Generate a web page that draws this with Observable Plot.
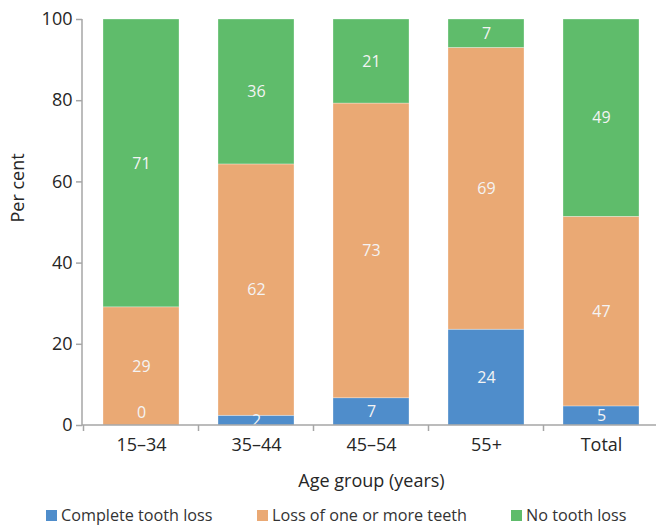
<!DOCTYPE html>
<html>
<head>
<meta charset="utf-8">
<script src="https://cdn.jsdelivr.net/npm/d3@7"></script>
<script src="https://cdn.jsdelivr.net/npm/@observablehq/plot@0.6"></script>
<style>
  html, body { margin: 0; padding: 0; background: #fff; overflow: hidden; }
  body { width: 656px; height: 528px; font-family: "Open Sans", sans-serif; color: #404040; }
  #legend { height: 28px; font-size: 16.2px; color: #333; position: relative; }
  .item { position: absolute; top: 4px; display: flex; align-items: center; white-space: nowrap; }
  .sw { width: 11px; height: 11px; margin-right: 4px; display: inline-block; }
</style>
</head>
<body>
<div id="chart"></div>
<div id="legend"></div>
<script>
const groups = ["15–34", "35–44", "45–54", "55+", "Total"];
const series = ["Complete tooth loss", "Loss of one or more teeth", "No tooth loss"];
const completeLoss = [0, 2.4, 6.7, 23.6, 4.7];
const someLoss = [29.1, 61.9, 72.6, 69.4, 46.7];
const noLoss = [70.9, 35.7, 20.7, 7.0, 48.6];
const colors = ["#4f8dcb", "#eaa974", "#5fbc6b"];
const yTicks = [0, 20, 40, 60, 80, 100];

const valuesBySeries = [completeLoss, someLoss, noLoss];
const data = [];
series.forEach((s, si) => {
  groups.forEach((g, gi) => {
    data.push({group: g, series: s, value: valuesBySeries[si][gi]});
  });
});

const boundaryTicks = (index, scales, values, dims) => {
  const x = scales.x;
  const dom = x.domain();
  const step = dom.length > 1 ? x(dom[1]) - x(dom[0]) : dims.width;
  const pad = (step - x.bandwidth()) / 2;
  const g = d3.create("svg:g");
  const y0 = dims.height - dims.marginBottom;
  for (let i = 0; i <= dom.length; i++) {
    const xp = (i < dom.length ? x(dom[i]) - pad : x(dom[dom.length - 1]) + x.bandwidth() + pad);
    g.append("line").attr("x1", xp).attr("x2", xp).attr("y1", y0).attr("y2", y0 + 6)
      .attr("stroke", "#a6a6a6").attr("stroke-width", 1.5);
  }
  g.append("line").attr("x1", dims.marginLeft).attr("x2", dims.width)
    .attr("y1", y0).attr("y2", y0).attr("stroke", "#a6a6a6").attr("stroke-width", 1.5);
  return g.node();
};

const chart = Plot.plot({
  width: 656,
  height: 500,
  marginTop: 19,
  marginBottom: 75,
  marginLeft: 82,
  marginRight: -4,
  style: {fontFamily: "'Open Sans', sans-serif", fontSize: "18px", color: "#262626", background: "#fff"},
  x: {domain: groups, paddingInner: 0.335, paddingOuter: 0.1675, label: null},
  y: {domain: [0, 100], label: null},
  color: {domain: series, range: colors},
  marks: [
    Plot.barY(data, Plot.stackY({x: "group", y: "value", fill: "series", z: "series", stroke: "#ffffff", strokeWidth: 0.6, strokeOpacity: 0.5})),
    Plot.text(data.filter(d => d.value > 0), Plot.stackY({x: "group", y: "value", z: "series", text: d => String(Math.round(d.value)), fill: "#f4f4f4", fontSize: 16})),
    Plot.text(data.filter(d => d.value === 0), {x: "group", y: "value", text: d => String(Math.round(d.value)), fill: "#f4f4f4", fontSize: 16, dy: -13}),
    Plot.frame({stroke: "none", render: (i, s, v, d) => {
      return d3.create("svg:line").attr("x1", d.marginLeft).attr("x2", d.marginLeft)
        .attr("y1", s.y(100)).attr("y2", s.y(0)).attr("stroke", "#a6a6a6").attr("stroke-width", 1.5).node();
    }}),
    Plot.axisY({ticks: yTicks, tickSize: 6, tickPadding: 4, stroke: "#a6a6a6", strokeWidth: 1.5, fill: "#262626", fontSize: 18, label: null}),
    Plot.text(["Per cent"], {frameAnchor: "left", dx: -64, rotate: -90, fontSize: 18, fill: "#262626", text: d => d}),
    Plot.axisX({tickSize: 0, tickPadding: 13, fill: "#262626", fontSize: 18, label: null}),
    Plot.text(["Age group (years)"], {frameAnchor: "bottom", dy: 61, fontSize: 18, fill: "#262626", text: d => d}),
    Plot.frame({stroke: "none", render: boundaryTicks})
  ]
});
document.getElementById("chart").appendChild(chart);

const legend = document.getElementById("legend");
const lx = [46, 257, 511];
series.forEach((s, i) => {
  const it = document.createElement("div");
  it.className = "item";
  it.style.left = lx[i] + "px";
  const sw = document.createElement("span");
  sw.className = "sw";
  sw.style.background = colors[i];
  it.appendChild(sw);
  it.appendChild(document.createTextNode(s));
  legend.appendChild(it);
});
</script>
</body>
</html>
